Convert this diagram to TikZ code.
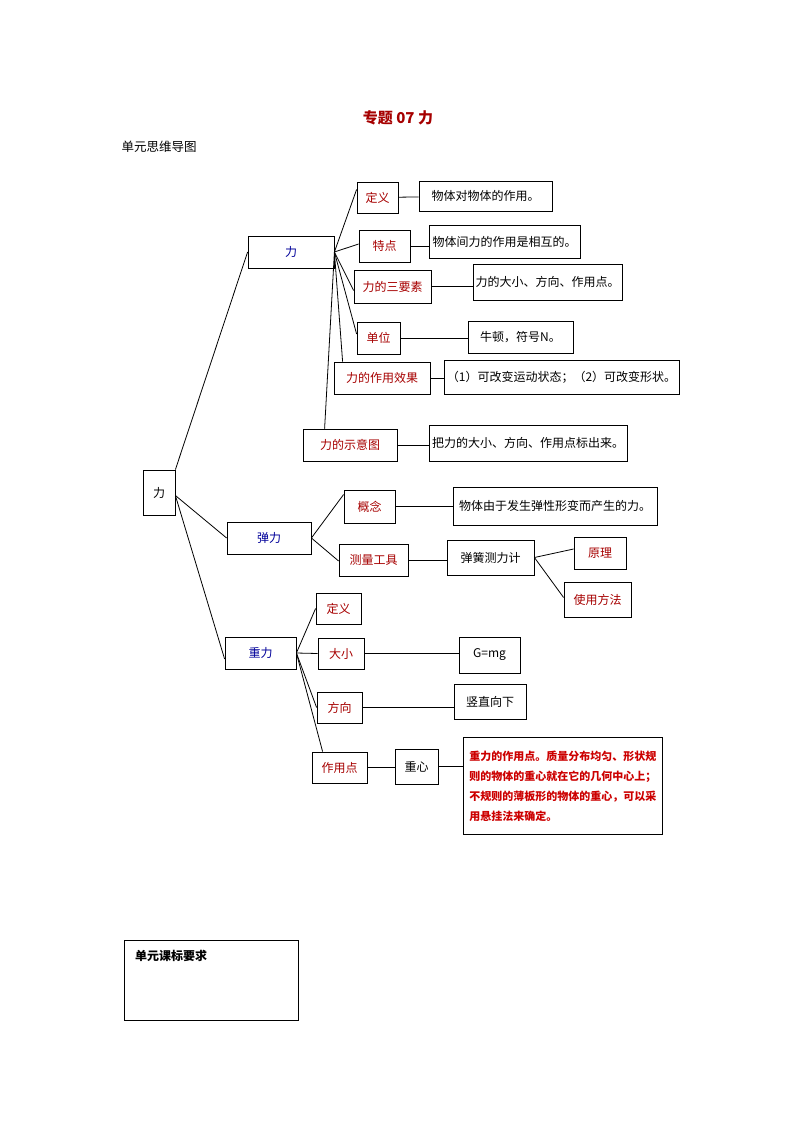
\documentclass[tikz,border=0pt]{standalone}
\usepackage{fontspec}
\setmainfont{Noto Sans CJK SC}
\begin{document}
\begin{tikzpicture}[x=1pt,y=-1pt,
 bx/.style={draw,thick,inner sep=0pt,font=\fontsize{12}{14}\selectfont},
 rd/.style={bx,text=red!65!black},
 bl/.style={bx,text=blue!60!black},
 ln/.style={thick}]
\useasboundingbox (0,0) rectangle (794,1123);
\node[text=red!65!black,font=\bfseries\fontsize{15}{17}\selectfont] (title) at (398,118) {专题 07 力};
\node[anchor=west,font=\fontsize{12.5}{14}\selectfont] (sub) at (118,147) {单元思维导图};
% root
\node[bx,minimum width=32,minimum height=45] (root) at (159,492.5) {力};
% 力 branch
\node[bl,minimum width=86,minimum height=32] (li) at (291,252) {力};
\node[rd,minimum width=41,minimum height=31] (dy) at (377.5,197.5) {定义};
\node[bx,minimum width=133,minimum height=30] (dyt) at (485.5,196) {物体对物体的作用。};
\node[rd,minimum width=51,minimum height=32] (td) at (384.5,246) {特点};
\node[bx,minimum width=151,minimum height=33] (tdt) at (504.5,241.5) {物体间力的作用是相互的。};
\node[rd,minimum width=77,minimum height=33] (sys) at (392.5,286.5) {力的三要素};
\node[bx,minimum width=149,minimum height=36] (syst) at (547.5,282) {力的大小、方向、作用点。};
\node[rd,minimum width=43,minimum height=32] (dw) at (378.5,338) {单位};
\node[bx,minimum width=105,minimum height=32] (dwt) at (520.5,337) {牛顿，符号N。};
\node[rd,minimum width=96,minimum height=32] (xg) at (382,378) {力的作用效果};
\node[bx,minimum width=235,minimum height=34] (xgt) at (561.5,377) {（1）可改变运动状态；（2）可改变形状。};
\node[rd,minimum width=94,minimum height=32] (sy) at (350,445) {力的示意图};
\node[bx,minimum width=198,minimum height=36] (syt) at (528,443) {把力的大小、方向、作用点标出来。};
% 弹力 branch
\node[bl,minimum width=84,minimum height=32] (tl) at (269,538) {弹力};
\node[rd,minimum width=51,minimum height=33] (gn) at (369.5,506.5) {概念};
\node[bx,minimum width=204,minimum height=38] (gnt) at (555,506) {物体由于发生弹性形变而产生的力。};
\node[rd,minimum width=69,minimum height=32] (cl) at (373.5,560) {测量工具};
\node[bx,minimum width=87,minimum height=35] (th) at (490.5,557.5) {弹簧测力计};
\node[rd,minimum width=52,minimum height=32] (yl) at (600,553) {原理};
\node[rd,minimum width=67,minimum height=35] (sf) at (597.5,599.5) {使用方法};
% 重力 branch
\node[bl,minimum width=71,minimum height=32] (zl) at (260.5,653) {重力};
\node[rd,minimum width=45,minimum height=31] (dy2) at (338.5,608.5) {定义};
\node[rd,minimum width=46,minimum height=31] (dx) at (341,653.5) {大小};
\node[bx,minimum width=61,minimum height=36] (gmg) at (489.5,655) {G=mg};
\node[rd,minimum width=45,minimum height=31] (fx) at (339.5,707.5) {方向};
\node[bx,minimum width=72,minimum height=35] (sz) at (490,701.5) {竖直向下};
\node[rd,minimum width=55,minimum height=31] (zyd) at (339.5,767.5) {作用点};
\node[bx,minimum width=43,minimum height=35] (zx) at (416.5,766.5) {重心};
\node[bx,minimum width=199,minimum height=97,align=left,anchor=north west,inner ysep=3pt,inner xsep=4pt,text=red!80!black,font=\bfseries\fontsize{11}{20}\selectfont] (big) at (463,737) {重力的作用点。质量分布均匀、形状规\\则的物体的重心就在它的几何中心上；\\不规则的薄板形的物体的重心，可以采\\用悬挂法来确定。};
% bottom box
\node[draw,thick,minimum width=174,minimum height=80,anchor=north west] (kb) at (124,940) {};
\node[anchor=north west,font=\bfseries\fontsize{12}{14}\selectfont,inner sep=0pt] (kbt) at (135,950) {单元课标要求};
% connectors
\draw[ln] (root.north east) -- (li.west);
\draw[ln] ([yshift=-3]root.east) -- (tl.west);
\draw[ln] ([yshift=-3]root.east) -- ([yshift=-6]zl.west);
\draw[ln] (li.east) -- ([yshift=8]dy.west);
\draw[ln] (li.east) -- ([yshift=2]td.west);
\draw[ln] (li.east) -- ([yshift=-4]sys.west);
\draw[ln] (li.east) -- ([yshift=4]dw.west);
\draw[ln] (li.east) -- ([xshift=9]xg.north west);
\draw[ln] (li.east) -- ([xshift=22]sy.north west);
\draw[ln] (dy) -- (dyt);
\draw[ln] (td) -- (td.east -| tdt.west);
\draw[ln] (sys.east) -- (sys.east -| syst.west);
\draw[ln] (dw.east) -- (dw.east -| dwt.west);
\draw[ln] (xg.east) -- (xg.east -| xgt.west);
\draw[ln] (sy.east) -- (sy.east -| syt.west);
\draw[ln] (tl.east) -- ([yshift=12]gn.west);
\draw[ln] (tl.east) -- ([yshift=-1]cl.west);
\draw[ln] (gn.east) -- (gn.east -| gnt.west);
\draw[ln] (cl.east) -- (cl.east -| th.west);
\draw[ln] (th.east) -- ([yshift=4]yl.west);
\draw[ln] (th.east) -- ([yshift=2]sf.west);
\draw[ln] (zl.east) -- (dy2.west);
\draw[ln] (zl.east) -- (dx.west);
\draw[ln] (zl.east) -- (fx.west);
\draw[ln] (zl.east) -- ([xshift=11]zyd.north west);
\draw[ln] (dx.east) -- (dx.east -| gmg.west);
\draw[ln] (fx.east) -- (fx.east -| sz.west);
\draw[ln] (zyd.east) -- (zyd.east -| zx.west);
\draw[ln] (zx.east) -- (zx.east -| big.west);
\end{tikzpicture}
\end{document}
